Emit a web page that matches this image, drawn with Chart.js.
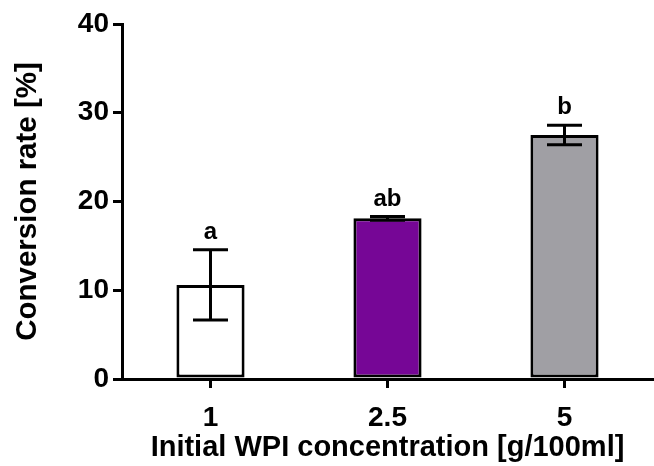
<!DOCTYPE html>
<html>
<head>
<meta charset="utf-8">
<script src="https://cdn.jsdelivr.net/npm/chart.js@4.4.0/dist/chart.umd.min.js"></script>
<style>
  html, body { margin: 0; padding: 0; background: #fff; }
  #wrap { width: 654px; height: 466px; }
</style>
</head>
<body>
<div id="wrap"><canvas id="grafico"></canvas></div>
<script>
const categorias = ["1", "2.5", "5"];
const medias = [10.6, 18.1, 27.5];
const desvios = [3.95, 0.2, 1.1];
const letras = ["a", "ab", "b"];
const cores = ["#ffffff", "#760696", "#a09fa4"];
const ticks_y = [0, 10, 20, 30, 40];

const fonte = "'Liberation Sans', Arial, sans-serif";

// barras de erro e letras de significancia
const plugin_erros = {
  id: "erros",
  afterDatasetsDraw(chart) {
    const ctx = chart.ctx;
    const x = chart.scales.x;
    const y = chart.scales.y;
    ctx.save();
    ctx.strokeStyle = "#000";
    ctx.lineWidth = 3;
    for (let i = 0; i < medias.length; i++) {
      const cx = x.getPixelForValue(i);
      const top = y.getPixelForValue(medias[i] + desvios[i]);
      const bot = y.getPixelForValue(medias[i] - desvios[i]);
      ctx.beginPath();
      ctx.moveTo(cx, top);
      ctx.lineTo(cx, bot);
      ctx.moveTo(cx - 17.5, top);
      ctx.lineTo(cx + 17.5, top);
      ctx.moveTo(cx - 17.5, bot);
      ctx.lineTo(cx + 17.5, bot);
      ctx.stroke();
      ctx.fillStyle = "#000";
      ctx.font = "bold 24px " + fonte;
      ctx.textAlign = "center";
      ctx.textBaseline = "alphabetic";
      ctx.fillText(letras[i], cx, top - 11);
    }
    ctx.restore();
  },
};

const ctx = document.getElementById("grafico").getContext("2d");
const myChart = new Chart(ctx, {
  type: "bar",
  data: {
    labels: categorias,
    datasets: [
      {
        data: medias,
        backgroundColor: cores,
        borderColor: "#000",
        borderWidth: 3,
        borderSkipped: false,
        categoryPercentage: 1,
        barPercentage: 0.385,
      },
    ],
  },
  options: {
    responsive: true,
    maintainAspectRatio: false,
    animation: false,
    layout: { padding: { top: 24, right: 1, left: 0, bottom: 0 } },
    plugins: {
      legend: { display: false },
      tooltip: { enabled: false },
    },
    scales: {
      x: {
        grid: {
          offset: false,
          drawOnChartArea: false,
          drawTicks: true,
          tickLength: 9,
          color: "#000",
          lineWidth: 3,
        },
        border: { color: "#000", width: 3 },
        ticks: {
          color: "#000",
          padding: 13,
          font: { family: fonte, size: 28, weight: "bold" },
        },
        title: {
          display: true,
          text: "Initial WPI concentration [g/100ml]",
          color: "#000",
          font: { family: fonte, size: 29, weight: "bold" },
          padding: { top: 0, bottom: 1 },
        },
        afterFit: function (s) { s.height = 87; },
      },
      y: {
        min: 0,
        max: 40,
        afterBuildTicks: function (s) {
          s.ticks = ticks_y.map(function (v) { return { value: v }; });
        },
        grid: {
          drawOnChartArea: false,
          drawTicks: true,
          tickLength: 9,
          color: "#000",
          lineWidth: 3,
        },
        border: { color: "#000", width: 3 },
        ticks: {
          color: "#000",
          padding: 4,
          font: { family: fonte, size: 28, weight: "bold" },
        },
        title: {
          display: true,
          text: "Conversion rate [%]",
          color: "#000",
          font: { family: fonte, size: 29.5, weight: "bold" },
          padding: { top: 10, bottom: 0 },
        },
        afterFit: function (s) { s.width = 122; },
      },
    },
  },
  plugins: [plugin_erros],
});
</script>
</body>
</html>
